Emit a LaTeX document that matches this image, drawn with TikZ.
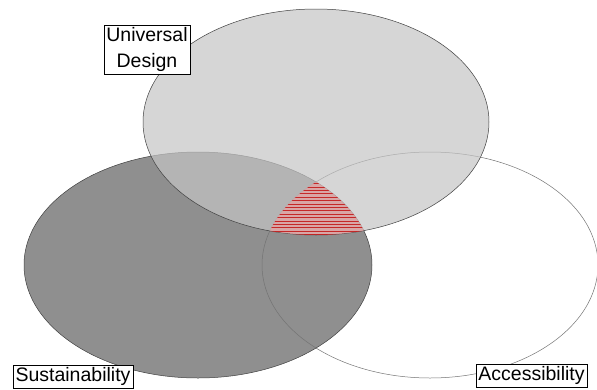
\documentclass[tikz,border=0pt]{standalone}
\usepackage{fontspec}
\setmainfont{Liberation Sans}
\usetikzlibrary{positioning}

\begin{document}
\begin{tikzpicture}[
		x=1pt, y=-1pt,
		tag/.style={rectangle, draw=black, fill=white, thin, inner sep=2.5pt, align=center, font=\fontsize{19.5}{26}\selectfont},
		set/.style={draw=black!75, line width=0.5pt}
		]
		\useasboundingbox (0,0) rectangle (597,389);
		
		% Sustainability
		\fill[black!44] (198,265) ellipse [x radius=174pt, y radius=113pt];
		\draw[set] (198,265) ellipse [x radius=174pt, y radius=113pt];
		
		% Accessibility
		\draw[set, draw=black!55] (430,265) ellipse [x radius=168pt, y radius=113pt];
		
		% Universal Design
		\fill[black!23, opacity=0.7] (316,122) ellipse [x radius=173pt, y radius=113pt];
		\draw[set] (316,122) ellipse [x radius=173pt, y radius=113pt];
		
		% Common part
		\begin{scope}
			\clip (198,265) ellipse [x radius=174pt, y radius=113pt];
			\clip (430,265) ellipse [x radius=168pt, y radius=113pt];
			\clip (316,122) ellipse [x radius=173pt, y radius=113pt];
			\fill[red!40, opacity=0.5] (250,170) rectangle (380,245);
			\foreach \y in {180,183.4,...,240}
				\draw[red!75!black, line width=0.45pt, opacity=0.75] (250,\y) -- (380,\y);
		\end{scope}
		
		% Labels
		\node[tag] (design) at (147,49.5) {Universal\\Design};
		\node[tag] (sustain) at (73,376.5) {Sustainability};
		\node[tag] (access) at (531.5,375.5) {Accessibility};
	\end{tikzpicture}
\end{document}
